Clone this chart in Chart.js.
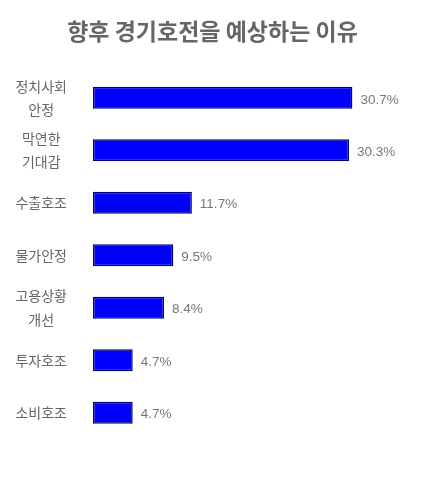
<!DOCTYPE html>
<html>
<head>
<meta charset="utf-8">
<script src="https://cdn.jsdelivr.net/npm/chart.js@4"></script>
<style>
  html, body { margin: 0; padding: 0; background: #fff; }
  #wrap { width: 435px; height: 480px; }
</style>
</head>
<body>
<div id="wrap"><canvas id="myChart"></canvas></div>
<script>
const ctx = document.getElementById("myChart");

/* input value */
var categories = [["정치사회", "안정"], ["막연한", "기대감"], "수출호조", "물가안정", ["고용상황", "개선"], "투자호조", "소비호조"];
var values = [30.7, 30.3, 11.7, 9.5, 8.4, 4.7, 4.7];
var valueLabels = ["30.7%", "30.3%", "11.7%", "9.5%", "8.4%", "4.7%", "4.7%"];

/* value text after each bar */
const barText = {
  id: "barText",
  afterDatasetsDraw(chart) {
    const c = chart.ctx;
    const meta = chart.getDatasetMeta(0);
    c.save();
    c.font = "13.5px 'Liberation Sans', Arial, sans-serif";
    c.fillStyle = "#777";
    c.textAlign = "left";
    c.textBaseline = "middle";
    meta.data.forEach(function (bar, i) {
      c.fillText(valueLabels[i], bar.x + 8, bar.y + 2);
    });
    c.restore();
  },
};

new Chart(ctx, {
  type: "bar",
  data: {
    labels: categories,
    datasets: [
      {
        data: values,
        backgroundColor: "#0000ff",
        borderColor: "#000070",
        borderWidth: 1.5,
        borderSkipped: false,
        barPercentage: 0.42,
        categoryPercentage: 1,
      },
    ],
  },
  options: {
    indexAxis: "y",
    responsive: true,
    maintainAspectRatio: false,
    animation: false,
    layout: { padding: { left: 5, right: 15, top: 0, bottom: 38 } },
    plugins: {
      legend: { display: false },
      tooltip: { enabled: false },
      title: {
        display: true,
        text: "향후 경기호전을 예상하는 이유",
        color: "#666",
        font: { size: 23, weight: "bold", family: "'Noto Sans CJK KR', sans-serif" },
        padding: { top: 17, bottom: 27 },
      },
    },
    scales: {
      x: {
        display: false,
        min: 0,
        max: 38.7,
      },
      y: {
        grid: { display: false },
        border: { display: false },
        afterFit(axis) {
          axis.width = 88;
        },
        ticks: {
          color: "#666",
          crossAlign: "center",
          padding: 18,
          font: { size: 14, family: "'Noto Sans CJK KR', sans-serif", lineHeight: 1.65 },
        },
      },
    },
  },
  plugins: [barText],
});
</script>
</body>
</html>
